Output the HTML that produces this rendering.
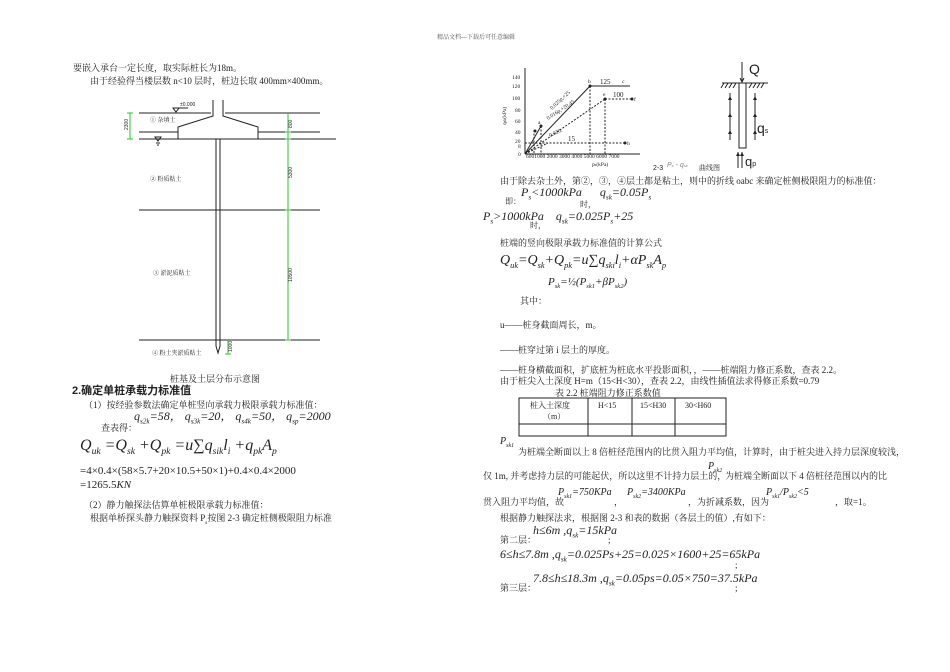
<!DOCTYPE html>
<html><head><meta charset="utf-8"><style>
body{margin:0;background:#fff;}
#p{position:relative;width:950px;height:672px;overflow:hidden;font-family:"Liberation Serif","Noto Serif CJK SC",serif;color:#222;}
.t{position:absolute;white-space:nowrap;font-size:9px;line-height:1;}
.m{font-family:"Liberation Serif","Noto Serif CJK SC",serif;font-style:italic;}
.f{font-size:13px;}
sub{font-size:60%;}
</style></head><body><div id="p">
<div class="t" style="left:437px;top:35px;font-size:6px;color:#555">精品文档---下载后可任意编辑</div>

<div class="t" style="left:73px;top:64px">要嵌入承台一定长度，取实际桩长为18m。</div>
<div class="t" style="left:90px;top:77px">由于经验得当楼层数 n&lt;10 层时，桩边长取 400mm×400mm。</div>

<svg style="position:absolute;left:0;top:0" width="950" height="672">
<g stroke="#222" stroke-width="1" fill="none">
<line x1="139" y1="113" x2="211" y2="113"/><line x1="225" y1="113" x2="320" y2="113"/>
<line x1="139" y1="132" x2="178" y2="132"/><line x1="258" y1="132" x2="320" y2="132"/>
<line x1="139" y1="139" x2="336" y2="139"/>
<line x1="139" y1="210" x2="320" y2="210"/>
<line x1="139" y1="340" x2="320" y2="340"/>
<polyline points="213,100 213,116 178,127 178,139"/>
<polyline points="223,100 223,116 258,127 258,139"/>
<polyline points="216,139 216,346 218,353 220,346 220,139"/>
<path d="M173,108 l6,0 l-3,4z M176,108 l12,0 M155,137 l6,0 l-3,4z M156,143 l4,0 M157,145 l2,0"/>
</g>
<g stroke="#2c2" stroke-width="1">
<line x1="130" y1="113" x2="130" y2="139"/><line x1="127" y1="113" x2="133" y2="113"/><line x1="127" y1="139" x2="133" y2="139"/>
<line x1="288" y1="113" x2="288" y2="340"/>
<line x1="285" y1="132" x2="291" y2="132"/><line x1="285" y1="139" x2="291" y2="139"/><line x1="285" y1="210" x2="291" y2="210"/><line x1="285" y1="340" x2="291" y2="340"/>
<line x1="228" y1="340" x2="228" y2="354"/><line x1="225" y1="354" x2="231" y2="354"/>
</g>
<g font-size="5" fill="#222" font-family="Liberation Sans">
<text x="180" y="106">±0.000</text>
<text x="128" y="130" transform="rotate(-90 128 130)">2300</text>
<text x="292" y="128" transform="rotate(-90 292 128)">800</text>
<text x="292" y="178" transform="rotate(-90 292 178)">5300</text>
<text x="292" y="282" transform="rotate(-90 292 282)">10500</text>
<text x="232" y="352" transform="rotate(-90 232 352)">1000</text>
</g>
<g font-size="6" fill="#222" font-family="Liberation Serif,Noto Serif CJK SC">
<text x="150" y="122">① 杂填土</text>
<text x="150" y="181">② 粉质粘土</text>
<text x="153" y="275">③ 淤泥质粘土</text>
<text x="152" y="355">④ 粉土夹淤质粘土</text>
</g>

<g stroke="#222" stroke-width="1" fill="none">
<line x1="525" y1="68" x2="525" y2="154"/><line x1="525" y1="154" x2="640" y2="154"/>
<line x1="525" y1="154" x2="590" y2="86"/><line x1="590" y1="86" x2="630" y2="86"/>
<line x1="525" y1="154" x2="541" y2="126"/>
<g stroke-dasharray="2,1.5">
<line x1="525" y1="154" x2="605" y2="99"/><line x1="605" y1="99" x2="632" y2="99"/>
<line x1="525" y1="154" x2="548" y2="143"/><line x1="525" y1="143" x2="625" y2="143"/>
<line x1="590" y1="86" x2="590" y2="154"/><line x1="605" y1="99" x2="605" y2="154"/>
<line x1="534" y1="130" x2="534" y2="154"/><line x1="541" y1="126" x2="541" y2="154"/>
</g>
</g>
<g fill="#222"><circle cx="590" cy="86" r="1.5"/><circle cx="605" cy="99" r="1.5"/><circle cx="632" cy="99" r="1.5"/><circle cx="541" cy="126" r="1.5"/><circle cx="625" cy="143" r="1.5"/><circle cx="535" cy="131" r="1.5"/></g>
<g font-size="5.5" fill="#222" font-family="Liberation Serif">
<text x="512" y="79">140</text><text x="512" y="88">120</text><text x="512" y="100">100</text><text x="515" y="112">80</text><text x="515" y="123">60</text><text x="515" y="134">40</text><text x="515" y="143">20</text><text x="518" y="148">8</text><text x="518" y="156">0</text>
<text x="526" y="158">6001000 2000 3000  4000  5000  6000  7000</text>
<text x="592" y="166">p<tspan font-size="4">s</tspan>(kPa)</text>
<text x="506" y="125" transform="rotate(-90 506 125)">q<tspan font-size="4">sk</tspan>(kPa)</text>
<text x="588" y="83">b</text><text x="622" y="83">c</text><text x="603" y="96">e</text><text x="634" y="101">f</text><text x="538" y="124">a</text><text x="627" y="145">h</text>
<text x="600" y="84" font-size="7">125</text><text x="613" y="97" font-size="7">100</text><text x="568" y="141" font-size="7">15</text>
<text x="552" y="110" transform="rotate(-43 552 110)">0.025p,+25</text>
<text x="548" y="120" transform="rotate(-33 548 120)">0.016p,+20.45</text>
<text x="550" y="137" transform="rotate(-25 550 137)">0.020,</text>
</g>
<g font-family="Liberation Sans" fill="#222"><text x="653" y="170" font-size="7">2-3</text><text x="667" y="167" font-size="7" fill="#888" font-style="italic">P<tspan font-size="4">s</tspan> - q<tspan font-size="4">sk</tspan></text></g>
<text x="699" y="170" font-size="7" fill="#222" font-family="Noto Serif CJK SC">曲线图</text>

<g stroke="#222" stroke-width="1" fill="none">
<line x1="742" y1="62" x2="742" y2="82"/><path d="M740,78 l2,4 l2,-4"/>
<line x1="722" y1="83" x2="768" y2="83"/>
<path d="M724,83 l-3,5 M728,83 l-3,5 M732,83 l-3,5 M736,83 l-3,5 M752,83 l-3,5 M756,83 l-3,5 M760,83 l-3,5 M764,83 l-3,5"/>
<rect x="739" y="83" width="7" height="65"/>
<line x1="730" y1="93" x2="730" y2="140"/><line x1="755" y1="93" x2="755" y2="140"/>
<line x1="738" y1="152" x2="738" y2="168"/><line x1="742" y1="152" x2="742" y2="168"/>
</g>
<g fill="#222"><path d="M728,100 l2,-4 l2,4z M728,117 l2,-4 l2,4z M728,134 l2,-4 l2,4z M753,100 l2,-4 l2,4z M753,117 l2,-4 l2,4z M753,134 l2,-4 l2,4z M736,156 l2,-4 l2,4z M740,156 l2,-4 l2,4z"/></g>
<g font-family="Liberation Sans" fill="#222"><text x="749" y="74" font-size="14">Q</text><text x="757" y="133" font-size="14">q<tspan font-size="7">s</tspan></text><text x="745" y="166" font-size="13">q<tspan font-size="7">p</tspan></text></g>

<g stroke="#222" stroke-width="1" fill="none">
<rect x="519" y="398" width="207" height="38"/><line x1="519" y1="424" x2="726" y2="424"/>
<line x1="588" y1="398" x2="588" y2="436"/><line x1="632" y1="398" x2="632" y2="436"/><line x1="675" y1="398" x2="675" y2="436"/>
</g>
</svg>

<div class="t" style="left:170px;top:375px">桩基及土层分布示意图</div>
<div class="t" style="left:72px;top:386px;font-size:11px;font-weight:bold;font-family:'Liberation Sans','Noto Sans CJK SC',sans-serif">2.确定单桩承载力标准值</div>
<div class="t" style="left:84px;top:401px">（1）按经验参数法确定单桩竖向承载力极限承载力标准值：</div>
<div class="t m" style="left:134px;top:410px;font-size:12px">q<sub>s2k</sub>=58， q<sub>s3k</sub>=20， q<sub>s4k</sub>=50， q<sub>sp</sub>=2000</div>
<div class="t" style="left:101px;top:424px">查表得：</div>
<div class="t m" style="left:80px;top:438px;font-size:16px">Q<sub>uk</sub> =Q<sub>sk</sub> +Q<sub>pk</sub> =u∑q<sub>sik</sub>l<sub>i</sub> +q<sub>pk</sub>A<sub>p</sub></div>
<div class="t" style="left:80px;top:466px;font-size:11px">=4×0.4×(58×5.7+20×10.5+50×1)+0.4×0.4×2000</div>
<div class="t" style="left:80px;top:480px;font-size:11px">=1265.5<i>KN</i></div>
<div class="t" style="left:84px;top:501px">（2）静力触探法估算单桩极限承载力标准值：</div>
<div class="t" style="left:90px;top:514px">根据单桥探头静力触探资料 P<sub>s</sub>按图 2-3 确定桩侧极限阻力标准</div>

<div class="t" style="left:500px;top:177px">由于除去杂土外，第②，③，④层土都是粘土，则中的折线 oabc 来确定桩侧极限阻力的标准值：</div>
<div class="t m" style="left:521px;top:186px;font-size:12px">P<sub>s</sub>&lt;1000<i>kPa</i> &nbsp;&nbsp;&nbsp;&nbsp;&nbsp;q<sub>sk</sub>=0.05<i>P</i><sub>s</sub></div>
<div class="t" style="left:505px;top:198px;font-size:8px">即：</div><div class="t" style="left:580px;top:201px;font-size:8px">时，</div>
<div class="t m" style="left:483px;top:210px;font-size:12px">P<sub>s</sub>&gt;1000<i>kPa</i> &nbsp;&nbsp;&nbsp;q<sub>sk</sub>=0.025<i>P</i><sub>s</sub>+25</div>
<div class="t" style="left:530px;top:222px;font-size:8px">时，</div>
<div class="t" style="left:500px;top:239px">桩端的竖向极限承载力标准值的计算公式</div>
<div class="t m" style="left:500px;top:254px;font-size:14px">Q<sub>uk</sub>=Q<sub>sk</sub>+Q<sub>pk</sub>=u∑q<sub>ski</sub>l<sub>i</sub>+αP<sub>sk</sub>A<sub>p</sub></div>
<div class="t m" style="left:548px;top:277px;font-size:11px">P<sub>sk</sub>=½(P<sub>sk1</sub>+βP<sub>sk2</sub>)</div>
<div class="t" style="left:520px;top:297px">其中：</div>
<div class="t" style="left:500px;top:321px">u——桩身截面周长，m。</div>
<div class="t" style="left:500px;top:346px">——桩穿过第 i 层土的厚度。</div>
<div class="t" style="left:500px;top:366px">——桩身横截面积，扩底桩为桩底水平投影面积，，——桩端阻力修正系数，查表 2.2。</div>
<div class="t" style="left:500px;top:377px">由于桩尖入土深度 H=m（15&lt;H&lt;30），查表 2.2，由线性插值法求得修正系数=0.79</div>
<div class="t" style="left:555px;top:389px">表 2.2 桩端阻力修正系数值</div>
<div class="t" style="left:530px;top:402px;font-size:8px">桩入土深度</div><div class="t" style="left:543px;top:413px;font-size:8px">（m）</div>
<div class="t" style="left:598px;top:402px;font-size:8px">H&lt;15</div><div class="t" style="left:640px;top:402px;font-size:8px">15&lt;H30</div><div class="t" style="left:685px;top:402px;font-size:8px">30&lt;H60</div>
<div class="t m" style="left:500px;top:437px;font-size:10px">P<sub>sk1</sub></div>
<div class="t" style="left:518px;top:448px">为桩端全断面以上 8 倍桩径范围内的比贯入阻力平均值，计算时，由于桩尖进入持力层深度较浅，</div>
<div class="t m" style="left:708px;top:462px;font-size:10px">P<sub>sk2</sub></div>
<div class="t" style="left:483px;top:472px">仅 1m, 并考虑持力层的可能起伏，所以这里不计持力层土的，</div>
<div class="t" style="left:725px;top:472px">为桩端全断面以下 4 倍桩径范围以内的比</div>
<div class="t m" style="left:558px;top:488px;font-size:10px">P<sub>sk1</sub>=750<i>KPa</i></div>
<div class="t m" style="left:627px;top:488px;font-size:10px">P<sub>sk2</sub>=3400<i>KPa</i></div>
<div class="t m" style="left:766px;top:488px;font-size:10px">P<sub>sk1</sub>/P<sub>sk2</sub>&lt;5</div>
<div class="t" style="left:483px;top:498px">贯入阻力平均值，故</div>
<div class="t" style="left:614px;top:498px">，</div>
<div class="t" style="left:688px;top:498px">，为折减系数，因为</div>
<div class="t" style="left:835px;top:498px">，取=1。</div>
<div class="t" style="left:500px;top:514px">根据静力触探法求，根据图 2-3 和表的数据（各层土的值）,有如下：</div>
<div class="t m" style="left:533px;top:524px;font-size:12px">h≤6m ,q<sub>sk</sub>=15kPa</div>
<div class="t" style="left:500px;top:536px">第二层：</div><div class="t" style="left:608px;top:536px">;</div>
<div class="t m" style="left:500px;top:548px;font-size:12px">6≤h≤7.8m ,q<sub>sk</sub>=0.025Ps+25=0.025×1600+25=65kPa</div>
<div class="t" style="left:735px;top:561px">;</div>
<div class="t m" style="left:533px;top:572px;font-size:12px">7.8≤h≤18.3m ,q<sub>sk</sub>=0.05ps=0.05×750=37.5kPa</div>
<div class="t" style="left:500px;top:584px">第三层：</div><div class="t" style="left:735px;top:584px">;</div>
</div></body></html>
